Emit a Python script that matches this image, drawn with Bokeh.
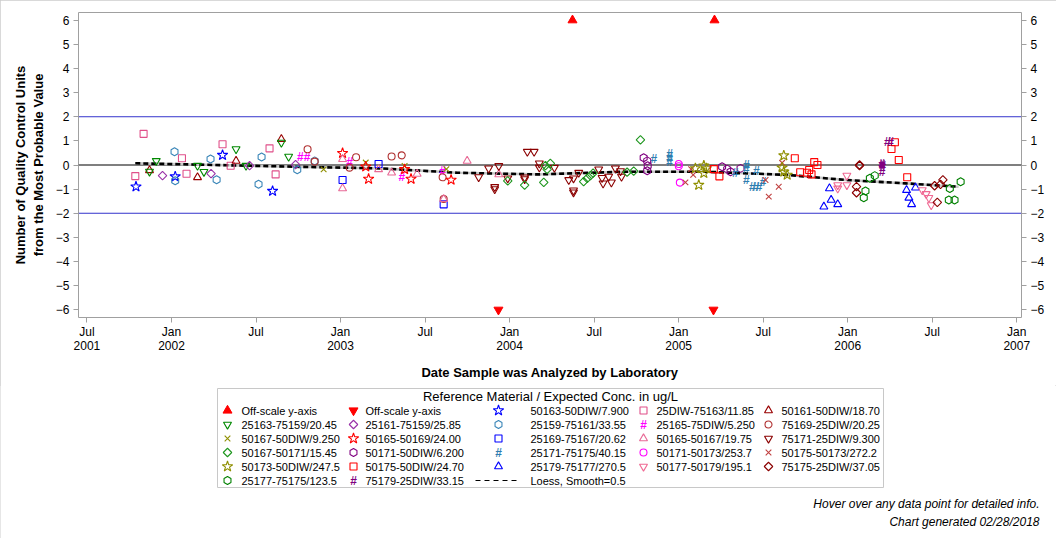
import math
from bokeh.plotting import figure
from bokeh.layouts import column
from bokeh.models import (Range1d, FixedTicker, LinearAxis, Span, Label, ColumnDataSource)
from bokeh.embed import file_html
from bokeh.resources import INLINE
from bokeh.core.properties import value

FONT = "Liberation Sans"

# ---------------- data (dates as decimal years, values in QC units) -------------
offup_t = [2004.372, 2005.212]
offup_v = [6, 6]
offdn_t = [2003.934, 2005.206]
offdn_v = [-6, -6]

r50163_t = [2001.790, 2002.022, 2002.302, 2002.598]
r50163_v = [-0.90, -0.48, 0.41, -1.08]

r25DIW_75163_t = [2001.786, 2001.835, 2002.062, 2002.089, 2002.302, 2002.350, 2002.580, 2002.616]
r25DIW_75163_v = [-0.46, 1.29, 0.28, -0.36, 0.86, -0.03, 0.69, -0.39]

r50161_t = [2001.870, 2002.154, 2002.382, 2002.650]
r50161_v = [-0.22, -0.51, 0.17, 1.07]

r25163_t = [2001.870, 2001.910, 2002.154, 2002.192, 2002.382, 2002.441, 2002.650, 2002.693]
r25163_v = [-0.27, 0.17, -0.03, -0.28, 0.66, -0.03, 0.93, 0.35]

r25161_t = [2001.947, 2002.234, 2002.462, 2002.734]
r25161_v = [-0.44, -0.36, -0.03, 0.02]

r25159_t = [2002.018, 2002.022, 2002.231, 2002.267, 2002.515, 2002.533, 2002.744, 2002.847]
r25159_v = [0.55, -0.65, 0.25, -0.61, -0.80, 0.33, -0.20, 0.17]

r25165_t = [2002.762, 2002.802, 2003.054, 2003.362, 2003.604]
r25165_v = [0.35, 0.35, 0.14, -0.51, -0.24]

r75169_t = [2002.805, 2002.847, 2003.054, 2003.092, 2003.302, 2003.362, 2003.604, 2003.610]
r75169_v = [0.65, 0.14, -0.11, 0.32, 0.35, 0.40, -0.51, -1.41]

r50167_50DIW_t = [2002.900, 2003.149, 2003.379, 2003.626]
r50167_50DIW_v = [-0.18, 0.10, -0.04, -0.17]

r50165_50169_t = [2003.012, 2003.149, 2003.166, 2003.379, 2003.417, 2003.654]
r50165_50169_v = [0.49, -0.07, -0.58, -0.18, -0.58, -0.62]

r25169_t = [2003.012, 2003.225, 2003.610]
r25169_v = [-0.62, 0.04, -1.63]

r50165_50167_t = [2003.012, 2003.012, 2003.225, 2003.302, 2003.453, 2003.610, 2003.749, 2003.936]
r50165_50167_v = [0.24, -0.97, -0.18, -0.32, -0.37, -1.41, 0.17, -0.39]

r75171_t = [2003.817, 2003.876, 2003.912, 2003.912, 2003.936, 2003.989, 2004.089, 2004.089,
            2004.105, 2004.145, 2004.176, 2004.176, 2004.265, 2004.350, 2004.378, 2004.378,
            2004.378, 2004.409, 2004.527, 2004.547, 2004.553, 2004.586, 2004.602, 2004.626,
            2004.656, 2004.662]
r75171_v = [-0.50, -0.14, -0.91, -1.00, -0.04, -0.55, -0.51, -0.58,
            0.55, 0.55, 0.07, -0.10, -0.11, -0.62, -0.55, -1.05,
            -1.13, -0.32, -0.18, -0.53, -0.76, -0.48, -0.72, -0.14,
            -0.25, -0.48]

r50167_50171_t = [2003.989, 2004.089, 2004.202, 2004.212, 2004.222, 2004.241, 2004.438, 2004.459,
                  2004.478, 2004.494, 2004.695, 2004.734, 2004.774]
r50167_50171_v = [-0.66, -0.83, -0.72, -0.03, -0.18, 0.07, -0.69, -0.55,
                  -0.44, -0.34, -0.30, -0.25, 1.04]

r50171_50DIW_t = [2004.793, 2004.814, 2004.817, 2004.814, 2005.257, 2005.287, 2005.307, 2005.366]
r50171_50DIW_v = [0.30, 0.17, -0.03, -0.24, -0.07, -0.17, -0.28, -0.14]

r25171_t = [2004.853, 2004.947, 2004.947, 2004.947, 2005.336, 2005.401, 2005.401, 2005.401,
            2005.436, 2005.456, 2005.476, 2005.460, 2005.500]
r25171_v = [0.25, 0.44, 0.28, 0.11, -0.34, 0.00, -0.18, -0.62,
            -0.90, -0.90, -0.90, -0.25, -0.69]

r50171_50173_t = [2005.001, 2005.001, 2005.007]
r50171_50173_v = [0.04, -0.05, -0.73]

r50175_50173_t = [2005.040, 2005.074, 2005.086, 2005.514, 2005.533, 2005.592, 2005.612]
r50175_50173_v = [-0.72, -0.17, -0.41, -0.62, -1.31, -0.90, 0.09]

r50173_t = [2005.099, 2005.119, 2005.149, 2005.149, 2005.165, 2005.612, 2005.622, 2005.622, 2005.642]
r50173_v = [-0.14, -0.83, -0.03, -0.34, -0.14, -0.11, 0.39, -0.28, -0.41]

r50175_50DIW_t = [2005.208, 2005.241, 2005.687, 2005.719, 2005.759, 2005.772, 2005.786, 2005.802,
                  2005.821, 2006.259, 2006.279, 2006.302, 2006.352]
r50175_50DIW_v = [-0.17, -0.47, 0.28, -0.30, -0.32, -0.21, -0.39, 0.12,
                  0.00, 0.66, 0.94, 0.21, -0.51]

r25179_t = [2005.859, 2005.892, 2005.902, 2005.941, 2006.348, 2006.362, 2006.378, 2006.401]
r25179_v = [-1.73, -0.97, -1.45, -1.63, -1.04, -1.36, -1.63, -0.94]

r50177_t = [2005.941, 2005.941, 2005.995, 2005.995, 2006.441, 2006.464, 2006.480, 2006.494]
r50177_v = [-0.83, -0.97, -0.44, -0.83, -1.04, -1.20, -1.36, -1.66]

r75175_t = [2006.052, 2006.052, 2006.070, 2006.070, 2006.514, 2006.530, 2006.549, 2006.563]
r75175_v = [-0.90, -1.15, -0.03, 0.00, -0.86, -1.55, -0.80, -0.62]

r25177_t = [2006.095, 2006.105, 2006.131, 2006.160, 2006.598, 2006.604, 2006.632, 2006.668]
r25177_v = [-1.36, -1.08, -0.55, -0.44, -1.45, -0.97, -1.45, -0.69]

r75179_t = [2006.200, 2006.204, 2006.208, 2006.204, 2006.234, 2006.253]
r75179_v = [0.03, 0.00, -0.03, -0.28, 0.94, 0.94]

loess_t = [2001.786, 2002.33, 2002.72, 2003.236, 2003.689, 2004.170, 2004.666,
           2005.157, 2005.642, 2005.987, 2006.342, 2006.656]
loess_v = [0.07, -0.01, -0.07, -0.14, -0.32, -0.39, -0.28,
           -0.28, -0.41, -0.62, -0.76, -0.90]

y_ticks = [-6, -5, -4, -3, -2, -1, 0, 1, 2, 3, 4, 5, 6]
x_ticks = [2001.5, 2002, 2002.5, 2003, 2003.5, 2004, 2004.5, 2005, 2005.5, 2006, 2006.5, 2007]
x_tick_labels = ["Jul\n2001", "Jan\n2002", "Jul", "Jan\n2003", "Jul", "Jan\n2004", "Jul",
                 "Jan\n2005", "Jul", "Jan\n2006", "Jul", "Jan\n2007"]

# series: (label, t, v, marker, color)
series = [
    ("Off-scale y-axis", offup_t, offup_v, "off_up", "#FF0000"),
    ("Off-scale y-axis", offdn_t, offdn_v, "off_dn", "#FF0000"),
    ("50163-50DIW/7.900", r50163_t, r50163_v, "star", "#0000FF"),
    ("25DIW-75163/11.85", r25DIW_75163_t, r25DIW_75163_v, "square", "#E0508A"),
    ("50161-50DIW/18.70", r50161_t, r50161_v, "triangle", "#990000"),
    ("25163-75159/20.45", r25163_t, r25163_v, "inverted_triangle", "#008800"),
    ("25161-75159/25.85", r25161_t, r25161_v, "diamond", "#9932A8"),
    ("25159-75161/33.55", r25159_t, r25159_v, "shield", "#3A86B8"),
    ("25165-75DIW/5.250", r25165_t, r25165_v, "hash", "#FF00FF"),
    ("75169-25DIW/20.25", r75169_t, r75169_v, "circle", "#B03030"),
    ("50167-50DIW/9.250", r50167_50DIW_t, r50167_50DIW_v, "x", "#8F8F00"),
    ("50165-50169/24.00", r50165_50169_t, r50165_50169_v, "star", "#FF0000"),
    ("25169-75167/20.62", r25169_t, r25169_v, "square", "#0000FF"),
    ("50165-50167/19.75", r50165_50167_t, r50165_50167_v, "triangle", "#E86A96"),
    ("75171-25DIW/9.300", r75171_t, r75171_v, "inverted_triangle", "#8B0000"),
    ("50167-50171/15.45", r50167_50171_t, r50167_50171_v, "diamond", "#1E961E"),
    ("50171-50DIW/6.200", r50171_50DIW_t, r50171_50DIW_v, "shield", "#800080"),
    ("25171-75175/40.15", r25171_t, r25171_v, "hash", "#2E7DB0"),
    ("50171-50173/253.7", r50171_50173_t, r50171_50173_v, "circle", "#FF00FF"),
    ("50175-50173/272.2", r50175_50173_t, r50175_50173_v, "x", "#C04040"),
    ("50173-50DIW/247.5", r50173_t, r50173_v, "star", "#8F8F00"),
    ("50175-50DIW/24.70", r50175_50DIW_t, r50175_50DIW_v, "square", "#FF0000"),
    ("25179-75177/270.5", r25179_t, r25179_v, "triangle", "#0000FF"),
    ("50177-50179/195.1", r50177_t, r50177_v, "inverted_triangle", "#F06A94"),
    ("75175-25DIW/37.05", r75175_t, r75175_v, "diamond", "#8B0000"),
    ("25177-75175/123.5", r25177_t, r25177_v, "shield", "#008000"),
    ("75179-25DIW/33.15", r75179_t, r75179_v, "hash", "#800080"),
]
loess_label = "Loess, Smooth=0.5"


def draw(fig, src, mk, col):
    if mk == "off_up":
        return fig.scatter("t", "v", source=src, marker="triangle", size=9,
                           line_color=col, fill_color=col)
    if mk == "off_dn":
        return fig.scatter("t", "v", source=src, marker="inverted_triangle", size=9,
                           line_color=col, fill_color=col)
    if mk == "hash":
        return fig.text("t", "v", source=src, text=value("#"), text_color=col,
                        text_font=value(FONT), text_font_size="12px", text_font_style="bold",
                        text_align="center", text_baseline="middle")
    kw = dict(marker=mk, size=7, angle=0.0)
    if mk == "star":
        kw["size"] = 11
    elif mk in ("triangle", "inverted_triangle"):
        kw["size"] = 8
    elif mk == "x":
        kw["size"] = 8
    elif mk == "diamond":
        kw = dict(marker="square", size=6, angle=math.pi / 4)
    elif mk == "shield":
        kw = dict(marker="hex", size=8, angle=math.pi / 2)
    return fig.scatter("t", "v", source=src, line_color=col, fill_color=None,
                       line_width=1.1, **kw)


# ---------------- main figure ----------------
p = figure(width=1056, height=385, output_backend="svg", toolbar_location=None,
           x_range=Range1d(2001.45, 2007.028), y_range=Range1d(-6.32, 6.32),
           min_border_left=78, min_border_right=35, min_border_top=12, min_border_bottom=68,
           background_fill_color="white", border_fill_color="white")
p.xgrid.visible = False
p.ygrid.visible = False
p.outline_line_color = "#A0A0A0"
p.outline_line_width = 1

for ax in (p.xaxis[0], p.yaxis[0]):
    ax.axis_line_color = None
    ax.major_tick_line_color = "#A0A0A0"
    ax.major_tick_in = 0
    ax.major_tick_out = 5
    ax.minor_tick_line_color = None
    ax.major_label_text_font = FONT
    ax.major_label_text_font_size = "12px"
    ax.major_label_text_color = "#000000"
    ax.axis_label_text_font = FONT
    ax.axis_label_text_font_style = "bold"
    ax.axis_label_text_font_size = "13px"
    ax.axis_label_text_color = "#000000"

p.yaxis[0].ticker = FixedTicker(ticks=y_ticks)
p.yaxis[0].axis_label = "Number of Quality Control Units\nfrom the Most Probable Value"
p.yaxis[0].axis_label_standoff = 7
p.yaxis[0].major_label_standoff = 4

p.xaxis[0].ticker = FixedTicker(ticks=x_ticks)
p.xaxis[0].major_label_overrides = {
    (int(t) if float(t).is_integer() else t): lab for t, lab in zip(x_ticks, x_tick_labels)}
p.xaxis[0].major_label_text_line_height = 1.0
p.xaxis[0].axis_label = "Date Sample was Analyzed by Laboratory"
p.xaxis[0].axis_label_standoff = 9
p.xaxis[0].major_label_standoff = 2

ry = LinearAxis(ticker=FixedTicker(ticks=y_ticks), axis_line_color=None,
                major_tick_line_color="#A0A0A0", major_tick_in=0, major_tick_out=5,
                minor_tick_line_color=None, major_label_text_font=FONT,
                major_label_text_font_size="12px", major_label_text_color="#000000",
                major_label_standoff=4)
p.add_layout(ry, "right")

p.add_layout(Span(location=0, dimension="width", line_color="black", line_width=1.2, level="underlay"))
p.add_layout(Span(location=2, dimension="width", line_color="#3333CC", line_width=1, level="underlay"))
p.add_layout(Span(location=-2, dimension="width", line_color="#3333CC", line_width=1, level="underlay"))

loess_src = ColumnDataSource(dict(t=loess_t, v=loess_v))
p.line("t", "v", source=loess_src, line_color="#C8C8C8", line_width=2.6)
p.line("t", "v", source=loess_src, line_color="black", line_width=2.6, line_dash="5 3")

for label, t, v, mk, col in series:
    draw(p, ColumnDataSource(dict(t=t, v=v)), mk, col)

# ---------------- legend / footnote panel (pixel coordinates) ----------------
q = figure(width=1056, height=153, output_backend="svg", toolbar_location=None,
           x_range=Range1d(0, 1056), y_range=Range1d(538, 385),
           min_border=0, min_border_left=0, min_border_right=0,
           min_border_top=0, min_border_bottom=0,
           background_fill_color="white", border_fill_color="white")
q.frame_align = False
q.axis.visible = False
q.grid.visible = False
q.outline_line_color = None

# legend layout (5 columns, filled row by row)
BOX = dict(left=217, right=883, top=388, bottom=487)
COL_MARK_X = [227, 353, 498, 643, 768]
COL_TEXT_X = [241, 365, 530, 656, 781]
ROW_Y0, ROW_DY = 410, 14

q.quad(left=[BOX["left"]], right=[BOX["right"]], top=[BOX["top"]], bottom=[BOX["bottom"]],
       fill_color=None, line_color="#C8C8C8", line_width=1)
q.add_layout(Label(x=550, y=396, text="Reference Material / Expected Conc. in ug/L",
                   text_font=FONT, text_font_size="13px", text_align="center",
                   text_baseline="middle", text_color="#000000"))

lab_x, lab_y, lab_t = [], [], []
for i, (label, t, v, mk, col) in enumerate(series):
    row, c = divmod(i, 5)
    y = ROW_Y0 + row * ROW_DY
    draw(q, ColumnDataSource(dict(t=[COL_MARK_X[c]], v=[y])), mk, col)
    lab_x.append(COL_TEXT_X[c]); lab_y.append(y); lab_t.append(label)

row, c = divmod(len(series), 5)
ly = ROW_Y0 + row * ROW_DY
q.line([COL_MARK_X[c] - 23, COL_MARK_X[c] + 20], [ly, ly], line_color="black",
       line_width=1.2, line_dash="5 4")
lab_x.append(COL_TEXT_X[c]); lab_y.append(ly); lab_t.append(loess_label)

q.text(x=lab_x, y=lab_y, text=lab_t, text_font=value(FONT), text_font_size="11px",
       text_color="#000000", text_align="left", text_baseline="middle")

q.add_layout(Label(x=1039, y=503, text="Hover over any data point for detailed info.",
                   text_font=FONT, text_font_size="12px", text_font_style="italic",
                   text_align="right", text_baseline="middle", text_color="#000000"))
q.add_layout(Label(x=1039, y=521, text="Chart generated 02/28/2018",
                   text_font=FONT, text_font_size="12px", text_font_style="italic",
                   text_align="right", text_baseline="middle", text_color="#000000"))

layout = column(p, q, spacing=0,
                styles={"outline": "1px solid #cccccc", "outline-offset": "-1px"})

open("out.html", "w").write(file_html(layout, INLINE))
